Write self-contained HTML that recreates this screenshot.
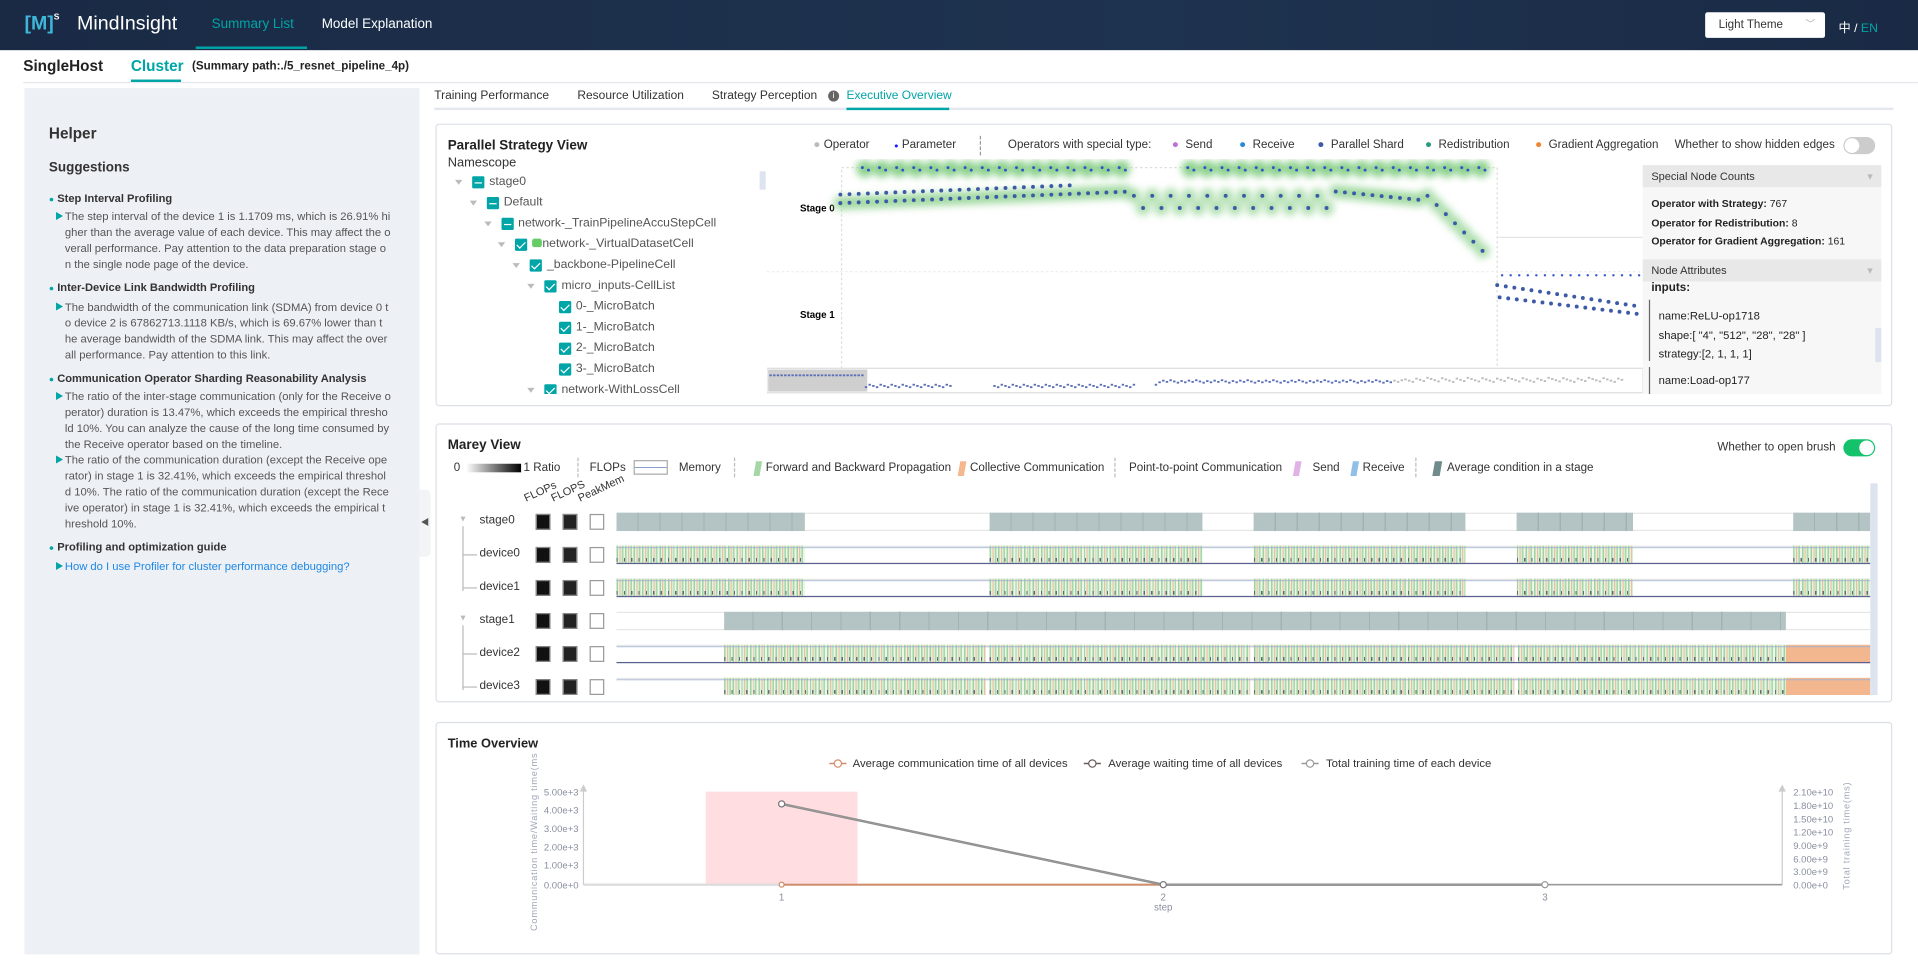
<!DOCTYPE html>
<html><head><meta charset="utf-8">
<style>
*{box-sizing:border-box;margin:0;padding:0}
html,body{width:1918px;height:974px;overflow:hidden;background:#fff;font-family:"Liberation Sans","Noto Sans CJK SC",sans-serif;color:#333}
#w{position:absolute;left:0;top:0;width:1568px;height:796px;transform:scale(1.22321,1.2236);transform-origin:0 0}
.a{position:absolute;white-space:nowrap}
.hdr{position:absolute;left:0;top:0;width:1568px;height:41px;background:linear-gradient(90deg,#1a2a45,#1e3350 60%,#1a2a45)}
.panel{position:absolute;border:1px solid #dcdfe6;border-radius:3px;background:#fff}
.lp{position:absolute;left:20px;top:72px;width:323px;height:708px;background:#edf0f5}
.lp .h{font-weight:bold;font-size:9.1px;color:#333;line-height:13px}
.lp .t{font-size:9.2px;color:#555;line-height:13.1px}
.lp .ar{position:absolute;left:25px;font-size:7px;color:#00a5a7;line-height:13px}
.cb{position:absolute;width:10px;height:10px;background:#00a5a7;border-radius:1px}
.cb.c::after{content:"";position:absolute;left:3px;top:1px;width:3px;height:6px;border:solid #fff;border-width:0 1.3px 1.3px 0;transform:rotate(45deg)}
.cb.m::after{content:"";position:absolute;left:2px;top:4.5px;width:6px;height:1.2px;background:#fff}
.tri{position:absolute;width:0;height:0;border-left:3px solid transparent;border-right:3px solid transparent;border-top:4px solid #bbb}
.tr{font-size:10px;color:#555}
.sq{position:absolute;width:12px;height:13px;border:1px solid #888}
</style></head><body><div id="w">
<!-- header -->
<div class="hdr"></div>
<div class="a" style="left:20px;top:11px;font-size:16px;color:#3fb6d8;font-weight:bold">[M]<span style="font-size:7px;vertical-align:top;color:#fff">S</span></div>
<div class="a" style="left:63px;top:11px;font-size:16px;color:#fff">MindInsight</div>
<div class="a" style="left:173px;top:14px;font-size:11px;color:#00a5a7">Summary List</div>
<div class="a" style="left:160px;top:38px;width:91px;height:2px;background:#00a5a7"></div>
<div class="a" style="left:263px;top:14px;font-size:11px;color:#fff">Model Explanation</div>
<div class="a" style="left:1394px;top:10px;width:98px;height:21px;background:#fff;border-radius:2px;font-size:9.5px;color:#333;padding:5px 0 0 11px">Light Theme<span style="position:absolute;right:8px;top:4px;color:#aaa;font-size:8px">﹀</span></div>
<div class="a" style="left:1503px;top:14px;font-size:10px;color:#fff">中 / <span style="color:#00a5a7">EN</span></div>
<!-- subheader -->
<div class="a" style="left:19px;top:47px;font-size:12.5px;font-weight:bold;color:#222">SingleHost</div>
<div class="a" style="left:107px;top:47px;font-size:12.5px;font-weight:bold;color:#00a5a7">Cluster</div>
<div class="a" style="left:157px;top:49px;font-size:9.5px;font-weight:bold;color:#222">(Summary path:./5_resnet_pipeline_4p)</div>
<div class="a" style="left:19px;top:67px;width:1549px;height:1px;background:#e4e7ed"></div>
<div class="a" style="left:107px;top:65px;width:41px;height:2px;background:#00a5a7"></div>
<!-- left panel -->
<div class="lp">
<div class="a" style="left:20px;top:30px;font-size:12.5px;font-weight:bold;color:#333">Helper</div>
<div class="a" style="left:20px;top:59px;font-size:11px;font-weight:bold;color:#333">Suggestions</div>
<div class="a h" style="left:20px;top:83.5px"><span style="color:#00a5a7;font-size:7px">●</span> Step Interval Profiling</div>
<div class="ar" style="top:98.5px">▶</div>
<div class="a t" style="left:33px;top:98.5px">The step interval of the device 1 is 1.1709 ms, which is 26.91% hi<br>gher than the average value of each device. This may affect the o<br>verall performance. Pay attention to the data preparation stage o<br>n the single node page of the device.</div>
<div class="a h" style="left:20px;top:156.5px"><span style="color:#00a5a7;font-size:7px">●</span> Inter-Device Link Bandwidth Profiling</div>
<div class="ar" style="top:172.5px">▶</div>
<div class="a t" style="left:33px;top:172.5px">The bandwidth of the communication link (SDMA) from device 0 t<br>o device 2 is 67862713.1118 KB/s, which is 69.67% lower than t<br>he average bandwidth of the SDMA link. This may affect the over<br>all performance. Pay attention to this link.</div>
<div class="a h" style="left:20px;top:230.5px"><span style="color:#00a5a7;font-size:7px">●</span> Communication Operator Sharding Reasonability Analysis</div>
<div class="ar" style="top:245.5px">▶</div>
<div class="a t" style="left:33px;top:245.5px">The ratio of the inter-stage communication (only for the Receive o<br>perator) duration is 13.47%, which exceeds the empirical thresho<br>ld 10%. You can analyze the cause of the long time consumed by<br>the Receive operator based on the timeline.</div>
<div class="ar" style="top:297.5px">▶</div>
<div class="a t" style="left:33px;top:297.5px">The ratio of the communication duration (except the Receive ope<br>rator) in stage 1 is 32.41%, which exceeds the empirical threshol<br>d 10%. The ratio of the communication duration (except the Rece<br>ive operator) in stage 1 is 32.41%, which exceeds the empirical t<br>hreshold 10%.</div>
<div class="a h" style="left:20px;top:368.5px"><span style="color:#00a5a7;font-size:7px">●</span> Profiling and optimization guide</div>
<div class="ar" style="top:384.5px">▶</div>
<div class="a t" style="left:33px;top:384.5px;color:#1e88e5">How do I use Profiler for cluster performance debugging?</div>
</div>
<div class="a" style="left:343px;top:400px;width:9px;height:55px;background:#f3f4f6;border-radius:0 4px 4px 0"></div>
<div class="a" style="left:344px;top:422px;font-size:7px;color:#555">◀</div>
<!-- tabs -->
<div class="a" style="left:355px;top:73px;font-size:9.8px;color:#333">Training Performance</div>
<div class="a" style="left:472px;top:73px;font-size:9.8px;color:#333">Resource Utilization</div>
<div class="a" style="left:582px;top:73px;font-size:9.8px;color:#333">Strategy Perception</div>
<div class="a" style="left:677px;top:74px;width:9px;height:9px;border-radius:50%;background:#666;color:#fff;font-size:7px;text-align:center;line-height:9px">i</div>
<div class="a" style="left:692px;top:73px;font-size:9.8px;color:#00a5a7">Executive Overview</div>
<div class="a" style="left:355px;top:88px;width:1193px;height:2px;background:#e4e7ed"></div>
<div class="a" style="left:692px;top:88px;width:84px;height:2px;background:#00a5a7"></div>

<!-- panel 1 -->
<div class="panel" style="left:356px;top:101px;width:1191px;height:231px"></div>
<div class="a" style="left:366px;top:113px;font-size:11px;font-weight:bold;color:#222">Parallel Strategy View</div>
<div class="a" style="left:366px;top:127px;font-size:10.5px;color:#333">Namescope</div>
<div class="a" style="left:621px;top:140px;width:5px;height:15px;background:#dde4f0"></div>
<div id="tree"></div>
<div class="a" style="left:665px;top:113px;font-size:9.5px;color:#333"><span style="color:#bbb">●</span> Operator</div>
<div class="a" style="left:731px;top:113px;font-size:9.5px;color:#333"><span style="color:#1a1aff;font-size:6px">●</span> Parameter</div>
<div class="a" style="left:801px;top:111px;height:16px;border-left:1px dashed #999"></div>
<div class="a" style="left:824px;top:113px;font-size:9.5px;color:#333">Operators with special type:</div>
<div class="a" style="left:958px;top:113px;font-size:9.5px;color:#333"><span style="color:#c070d0">●</span>&nbsp; Send</div>
<div class="a" style="left:1013px;top:113px;font-size:9.5px;color:#333"><span style="color:#2a8ad8">●</span>&nbsp; Receive</div>
<div class="a" style="left:1077px;top:113px;font-size:9.5px;color:#333"><span style="color:#3d5aa8">●</span>&nbsp; Parallel Shard</div>
<div class="a" style="left:1165px;top:113px;font-size:9.5px;color:#333"><span style="color:#2a9d80">●</span>&nbsp; Redistribution</div>
<div class="a" style="left:1255px;top:113px;font-size:9.5px;color:#333"><span style="color:#f0852d">●</span>&nbsp; Gradient Aggregation</div>
<div class="a" style="left:1369px;top:113px;font-size:9.5px;color:#333">Whether to show hidden edges</div>
<div class="a" style="left:1507px;top:112px;width:26px;height:14px;border-radius:7px;background:#ccc"><div style="position:absolute;left:1px;top:1px;width:12px;height:12px;border-radius:50%;background:#fff"></div></div>
<svg class="a" style="left:627px;top:130px" width="716" height="192" id="g1"></svg>
<div class="a" style="left:1343px;top:135px;width:195px;height:187px;background:#f7f7f7"></div>
<div class="a" style="left:1343px;top:135px;width:195px;height:18px;background:#e8e8e8;font-size:9px;padding:4px 7px;color:#333">Special Node Counts<span style="position:absolute;right:7px;color:#bbb">▾</span></div>
<div class="a" style="left:1350px;top:161px;font-size:8.5px;color:#222"><b>Operator with Strategy:</b> 767</div>
<div class="a" style="left:1350px;top:177px;font-size:8.5px;color:#222"><b>Operator for Redistribution:</b> 8</div>
<div class="a" style="left:1350px;top:192px;font-size:8.5px;color:#222"><b>Operator for Gradient Aggregation:</b> 161</div>
<div class="a" style="left:1343px;top:212px;width:195px;height:18px;background:#e8e8e8;font-size:9px;padding:4px 7px;color:#333">Node Attributes<span style="position:absolute;right:7px;color:#bbb">▾</span></div>
<div class="a" style="left:1350px;top:230px;font-size:9.5px;font-weight:bold;color:#222">inputs:</div>
<div class="a" style="left:1348px;top:245px;width:1px;height:50px;background:#666"></div>
<div class="a" style="left:1356px;top:251px;font-size:9.2px;color:#222;line-height:15.5px">name:ReLU-op1718<br>shape:[ "4", "512", "28", "28" ]<br>strategy:[2, 1, 1, 1]</div>
<div class="a" style="left:1348px;top:300px;width:1px;height:22px;background:#666"></div>
<div class="a" style="left:1356px;top:306px;font-size:9.2px;color:#222">name:Load-op177</div>
<div class="a" style="left:1533px;top:268px;width:5px;height:28px;background:#dde4f0"></div>

<!-- panel 2 -->
<div class="panel" style="left:356px;top:346px;width:1191px;height:228px"></div>
<div class="a" style="left:366px;top:358px;font-size:11px;font-weight:bold;color:#222">Marey View</div>
<div class="a" style="left:1404px;top:360px;font-size:9.5px;color:#333">Whether to open brush</div>
<div class="a" style="left:1507px;top:359px;width:26px;height:14px;border-radius:7px;background:#13c26a"><div style="position:absolute;right:1px;top:1px;width:12px;height:12px;border-radius:50%;background:#fff"></div></div>
<div class="a" style="left:371px;top:377px;font-size:9.5px;color:#333">0</div>
<div class="a" style="left:381px;top:379px;width:45px;height:7px;background:linear-gradient(90deg,#fff,#000)"></div>
<div class="a" style="left:428px;top:377px;font-size:9.5px;color:#333">1 Ratio</div>
<div class="a" style="left:472px;top:374px;height:16px;border-left:1px dashed #bbb"></div>
<div class="a" style="left:482px;top:377px;font-size:9.5px;color:#333">FLOPs</div>
<div class="a" style="left:518px;top:376px;width:28px;height:12px;border:1px solid #aaa;background:linear-gradient(#fff 45%,#8a9ed0 45%,#8a9ed0 55%,#fff 55%)"></div>
<div class="a" style="left:555px;top:377px;font-size:9.5px;color:#333">Memory</div>
<div class="a" style="left:600px;top:374px;height:16px;border-left:1px dashed #bbb"></div>
<div class="a" style="left:617px;top:377px;width:5px;height:12px;background:#a5d6a7;transform:skewX(-10deg)"></div>
<div class="a" style="left:626px;top:377px;font-size:9.5px;color:#333">Forward and Backward Propagation</div>
<div class="a" style="left:784px;top:377px;width:5px;height:12px;background:#f5b78e;transform:skewX(-10deg)"></div>
<div class="a" style="left:793px;top:377px;font-size:9.5px;color:#333">Collective Communication</div>
<div class="a" style="left:911px;top:374px;height:16px;border-left:1px dashed #bbb"></div>
<div class="a" style="left:923px;top:377px;font-size:9.5px;color:#333">Point-to-point Communication</div>
<div class="a" style="left:1058px;top:377px;width:5px;height:12px;background:#e0b2e6;transform:skewX(-10deg)"></div>
<div class="a" style="left:1073px;top:377px;font-size:9.5px;color:#333">Send</div>
<div class="a" style="left:1105px;top:377px;width:5px;height:12px;background:#90c0e8;transform:skewX(-10deg)"></div>
<div class="a" style="left:1114px;top:377px;font-size:9.5px;color:#333">Receive</div>
<div class="a" style="left:1157px;top:374px;height:16px;border-left:1px dashed #bbb"></div>
<div class="a" style="left:1172px;top:377px;width:6px;height:12px;background:#6f8b8c;transform:skewX(-10deg)"></div>
<div class="a" style="left:1183px;top:377px;font-size:9.5px;color:#333">Average condition in a stage</div>
<div class="a" style="left:431px;top:402px;font-size:9px;color:#333;transform:rotate(-25deg);transform-origin:0 100%">FLOPs</div>
<div class="a" style="left:453px;top:402px;font-size:9px;color:#333;transform:rotate(-25deg);transform-origin:0 100%">FLOPS</div>
<div class="a" style="left:475px;top:402px;font-size:9px;color:#333;transform:rotate(-25deg);transform-origin:0 100%">PeakMem</div>
<div class="a" style="left:1529px;top:395px;width:6px;height:173px;background:#dde4f0"></div>
<div id="marey"></div>

<!-- panel 3 -->
<div class="panel" style="left:356px;top:590px;width:1191px;height:190px"></div>
<div class="a" style="left:366px;top:602px;font-size:10.5px;font-weight:bold;color:#222">Time Overview</div>
<svg class="a" style="left:356px;top:590px" width="1191" height="190" font-family="Liberation Sans, sans-serif">
<g font-size="9.3" fill="#333">
<line x1="322" y1="34" x2="336" y2="34" stroke="#d48c68" stroke-width="1.2"/><circle cx="329" cy="34" r="3" fill="#fff" stroke="#d48c68"/>
<text x="341" y="37">Average communication time of all devices</text>
<line x1="530" y1="34" x2="544" y2="34" stroke="#6b5b5b" stroke-width="1.2"/><circle cx="537" cy="34" r="3" fill="#fff" stroke="#6b5b5b"/>
<text x="550" y="37">Average waiting time of all devices</text>
<line x1="708" y1="34" x2="722" y2="34" stroke="#999" stroke-width="1.2"/><circle cx="715" cy="34" r="3" fill="#fff" stroke="#999"/>
<text x="728" y="37">Total training time of each device</text>
</g>
<rect x="221" y="57" width="124" height="76" fill="#ffdde0"/>
<line x1="121" y1="133" x2="1101" y2="133" stroke="#ddd" stroke-width="2"/>
<line x1="121" y1="133" x2="121" y2="54" stroke="#ccc"/><path d="M118 57 L121 51 L124 57Z" fill="#ccc"/>
<line x1="1101" y1="133" x2="1101" y2="54" stroke="#ccc"/><path d="M1098 57 L1101 51 L1104 57Z" fill="#ccc"/>
<g font-size="7.8" fill="#8a8fa0" text-anchor="end">
<text x="117" y="60">5.00e+3</text><text x="117" y="75">4.00e+3</text><text x="117" y="90">3.00e+3</text><text x="117" y="105">2.00e+3</text><text x="117" y="120">1.00e+3</text><text x="117" y="136">0.00e+0</text>
</g>
<g font-size="7.8" fill="#8a8fa0">
<text x="1110" y="60">2.10e+10</text><text x="1110" y="71">1.80e+10</text><text x="1110" y="82">1.50e+10</text><text x="1110" y="93">1.20e+10</text><text x="1110" y="104">9.00e+9</text><text x="1110" y="115">6.00e+9</text><text x="1110" y="125">3.00e+9</text><text x="1110" y="136">0.00e+0</text>
</g>
<text transform="translate(83,98) rotate(-90)" font-size="7.6" fill="#a0a6b8" text-anchor="middle" letter-spacing="0.6">Communication time/Waiting time(ms</text>
<text transform="translate(1156,93) rotate(-90)" font-size="7.6" fill="#a0a6b8" text-anchor="middle" letter-spacing="0.6">Total training time(ms)</text>
<g font-size="8" fill="#8a8fa0" text-anchor="middle"><text x="283" y="146">1</text><text x="595" y="146">2</text><text x="595" y="154">step</text><text x="907" y="146">3</text></g>
<line x1="283" y1="133" x2="595" y2="133" stroke="#d48c68" stroke-width="1.5"/>
<polyline points="283,67 595,133 907,133" fill="none" stroke="#888" stroke-width="2"/>
<polyline points="283,67 595,133 907,133 1101,133" fill="none" stroke="#999" stroke-width="1"/>
<circle cx="283" cy="67" r="2.5" fill="#fff" stroke="#777"/><circle cx="595" cy="133" r="2.5" fill="#fff" stroke="#777"/><circle cx="907" cy="133" r="2.5" fill="#fff" stroke="#999"/><circle cx="283" cy="133" r="2" fill="#fff" stroke="#d48c68"/>
</svg>
</div>
<script>
// tree
var T=[["stage0",0,"m",1],["Default",1,"m",1],["network-_TrainPipelineAccuStepCell",2,"m",1],["network-_VirtualDatasetCell",3,"c",1],["_backbone-PipelineCell",4,"c",1],["micro_inputs-CellList",5,"c",1],["0-_MicroBatch",6,"c",0],["1-_MicroBatch",6,"c",0],["2-_MicroBatch",6,"c",0],["3-_MicroBatch",6,"c",0],["network-WithLossCell",5,"c",1]];
var h="";T.forEach(function(t,i){var y=144+i*17,x=386+t[1]*11.8;
if(t[3])h+='<div class="tri" style="left:'+(x-14)+'px;top:'+(y+3)+'px"></div>';
h+='<div class="cb '+t[2]+'" style="left:'+x+'px;top:'+y+'px"></div>';
h+='<div class="a tr" style="left:'+(x+14)+'px;top:'+(y-1)+'px">'+(i==3?'<span style="display:inline-block;width:8px;height:7px;background:#6c6;border-radius:2px"></span>':'')+t[0]+'</div>';});
document.getElementById("tree").innerHTML='<div style="position:absolute;left:362px;top:140px;width:258px;height:182px;overflow:hidden"><div style="position:absolute;left:-362px;top:-140px">'+h+'</div></div>';
// graph
var s='<defs><filter id="bl"><feGaussianBlur stdDeviation="3"/></filter></defs>';
s+='<rect x="61" y="7" width="536" height="168" fill="none" stroke="#ddd" stroke-dasharray="2,2"/>';
s+='<text x="27" y="43" font-size="8" font-weight="bold" font-family="Liberation Sans">Stage 0</text><text x="27" y="130" font-size="8" font-weight="bold" font-family="Liberation Sans">Stage 1</text>';
s+='<line x1="597" y1="64" x2="716" y2="64" stroke="#e6e6e6"/><line x1="0" y1="92" x2="716" y2="92" stroke="#eee" stroke-dasharray="2,2"/>';
var g="",d="";
for(var x=80;x<590;x+=14){if(x>300&&x<340)continue;g+='<circle cx="'+x+'" cy="8" r="7" fill="#8ad08a"/>';d+='<circle cx="'+(x-2)+'" cy="7" r="1.2" fill="#3355cc"/><circle cx="'+(x+3)+'" cy="9" r="1.2" fill="#3355cc"/>';}
for(var x=60;x<590;x+=7.5){var y=x<300?36-(x-60)*0.04:(x<460?(x%15<7?30:40):(x<540?26+(x-460)*0.1:30+(x-540)*1.0));g+='<circle cx="'+x+'" cy="'+y+'" r="6" fill="#8ad08a" opacity="0.7"/>';d+='<circle cx="'+x+'" cy="'+y+'" r="1.6" fill="#3d5aa8"/>';if(x<250)d+='<circle cx="'+x+'" cy="'+(y-7)+'" r="1.6" fill="#3d5aa8"/>';}
s+='<g filter="url(#bl)">'+g+'</g>'+d;
for(var x=597;x<712;x+=7){s+='<circle cx="'+x+'" cy="'+(103+(x-597)*0.15)+'" r="1.6" fill="#3d5aa8"/><circle cx="'+(x+2)+'" cy="'+(113+(x-597)*0.12)+'" r="1.6" fill="#3d5aa8"/><circle cx="'+(x+4)+'" cy="'+(95)+'" r="1" fill="#3355cc"/>';}
s+='<rect x="0" y="171" width="716" height="20" fill="#fff" stroke="#ddd"/><rect x="1" y="172" width="81" height="18" fill="#bbb" opacity="0.7"/>';
for(var x=2;x<700;x+=3){if((x>150&&x<185)||(x>300&&x<315))continue;var yy=x<80?176:(x<320?183+(x%9)/3:(x<520?180+(x%7)/3:178+(x%11)/3));s+='<rect x="'+x+'" y="'+yy+'" width="2" height="1.5" fill="'+(x>510?'#bbb':'#5a6fb8')+'"/>';}
document.getElementById("g1").innerHTML=s;
// marey
var rows=[["stage0",426,0],["device0",453,1],["device1",480,1],["stage1",507,0],["device2",534,1],["device3",561,1]];
var segA=[[504,658],[809,983],[1025,1198],[1240,1335],[1466,1529]],segB=[[592,806],[809,1022],[1025,1238],[1241,1460]];
var stripe='background:#cfe6cc;background-image:repeating-linear-gradient(90deg,#9fd39f 0 1.2px,#e6f1e2 1.2px 2.4px,#f2bd9c 2.4px 3.2px,#d8ecd4 3.2px 4.4px,#a8d8a8 4.4px 5.6px,#eef5ea 5.6px 7px)';
var m='<div style="position:absolute;left:356px;top:415px;width:1173px;height:153px;overflow:hidden"><div style="position:absolute;left:-356px;top:-415px">';
m+='<div class="a" style="left:378px;top:430px;width:1px;height:53px;background:#bbb"></div><div class="a" style="left:378px;top:511px;width:1px;height:53px;background:#bbb"></div>';
rows.forEach(function(r,i){var y=r[1];
m+='<div class="a" style="left:392px;top:'+(y-6)+'px;font-size:9.6px;color:#333">'+r[0]+'</div>';
if(r[2])m+='<div class="a" style="left:378px;top:'+y+'px;width:12px;height:1px;background:#bbb"></div>';
else m+='<div class="a" style="left:375px;top:'+(y-5)+'px;font-size:7px;color:#bbb">▼</div>';
m+='<div class="sq" style="left:438px;top:'+(y-6)+'px;background:#111"></div><div class="sq" style="left:460px;top:'+(y-6)+'px;background:#222"></div><div class="sq" style="left:482px;top:'+(y-6)+'px;background:#fff;border-color:#999"></div>';
m+='<div class="a" style="left:504px;top:'+(y-7)+'px;width:1025px;height:15px;border-top:1px solid #e6e6e6;border-bottom:1px solid #e6e6e6"></div>';
var segs=i<3?segA:segB;
if(!r[2]){ if(i==0)segA.forEach(function(q){m+='<div class="a" style="left:'+q[0]+'px;top:'+(y-7)+'px;width:'+(q[1]-q[0])+'px;height:15px;background:#b4c4c4;background-image:repeating-linear-gradient(90deg,transparent 0 17px,#a0b2b2 17px 18px)"></div>';});
 else m+='<div class="a" style="left:592px;top:'+(y-7)+'px;width:868px;height:15px;background:#b4c4c4;background-image:repeating-linear-gradient(90deg,transparent 0 23px,#a0b2b2 23px 24px)"></div>';}
else{segs.forEach(function(q){m+='<div class="a" style="left:'+q[0]+'px;top:'+(y-7)+'px;width:'+(q[1]-q[0])+'px;height:15px;'+stripe+'"></div>';
 m+='<div class="a" style="left:'+q[0]+'px;top:'+(y+3)+'px;width:'+(q[1]-q[0])+'px;height:3px;background-image:repeating-linear-gradient(90deg,#667 0 1px,transparent 1px 6px)"></div>';});
 if(i>=4)m+='<div class="a" style="left:1460px;top:'+(y-7)+'px;width:69px;height:15px;background:#f3b78f"></div>';
 m+='<div class="a" style="left:504px;top:'+(y+7)+'px;width:1025px;height:1px;background:#5a6090"></div><div class="a" style="left:504px;top:'+(y-6)+'px;width:1025px;height:1px;background:#9fb0d0;opacity:.7"></div>';}
});
m+='</div></div>';
document.getElementById("marey").innerHTML=m;
</script>
</body></html>
